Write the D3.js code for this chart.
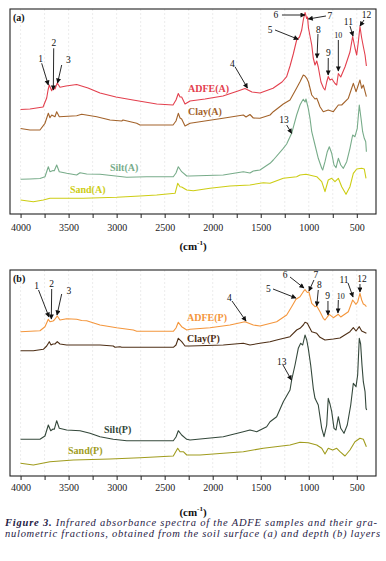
<!DOCTYPE html>
<html>
<head>
<meta charset="utf-8">
<script src="https://cdn.jsdelivr.net/npm/d3@7"></script>
<style>
  body { margin: 0; background: #fff; }
  text { font-family: "Liberation Serif", "Times New Roman", serif; }
</style>
</head>
<body>
<script>
// spectra: [wavenumber (cm-1), absorbance (a.u., offset)]
const adfeA = [[4000,104.5],[3902,105],[3766,107],[3728,116],[3714,124],[3701,129],[3676,123.3],[3662,127],[3642,125],[3618,131],[3590,126.7],[3527,128],[3416,129.5],[3298,126],[3173,121],[3007,117],[2830,114],[2583,110],[2413,109],[2382,114],[2358,120.5],[2340,117],[2323,117],[2288,110],[2236,113],[2080,115],[1893,118],[1737,123],[1664,125.5],[1591,122],[1508,121],[1372,125.7],[1278,132],[1230,137.3],[1195,148],[1161,160],[1126,174],[1096,177],[1073,184],[1057,194],[1039,201.5],[1021,195.5],[1013,197],[1003,186],[969,169],[953,156],[935,149],[917,153],[901,147],[873,132],[847,126],[831,124],[813,132],[797,137.5],[779,134],[758,135],[727,130.5],[709,129],[692,140.5],[667,137],[623,147],[571,162],[543,177.5],[519,166],[501,159],[484,172],[467,187.5],[449,176],[432,167.5],[414,159],[400,148]];
const clayA = [[4000,85.5],[3902,84],[3798,84],[3746,90.7],[3711,100.7],[3694,96.3],[3676,99],[3642,97.3],[3624,102.3],[3597,97.3],[3416,98.3],[3364,99.7],[3207,97.3],[3069,94],[2947,93],[2934,94],[2791,90.7],[2757,89],[2413,89],[2382,93],[2358,100.7],[2340,96],[2323,95],[2288,88],[2236,90.7],[1893,95.7],[1681,99],[1653,97],[1612,99.5],[1577,96],[1508,95.7],[1403,99],[1369,102.3],[1265,110],[1195,114],[1126,126],[1091,132.3],[1057,139],[1039,138],[1021,135.7],[1003,132],[969,119],[935,115],[917,115.7],[901,112],[883,107.3],[849,102.3],[797,104],[744,102.3],[692,109],[657,109],[588,115.7],[553,125.7],[536,130.7],[508,122.3],[491,127],[467,134],[449,125.7],[432,129],[400,117.3]];
const siltA = [[4000,34.7],[3902,35],[3798,35.5],[3746,37.3],[3711,47.3],[3694,42.3],[3662,43.5],[3649,43.3],[3624,49],[3597,42.3],[3520,40.7],[3416,39],[3381,41.3],[3312,40],[3173,39.7],[2895,36.7],[2687,37.3],[2410,37.3],[2382,41],[2358,47.3],[2323,42.3],[2270,38],[2236,38],[1890,39],[1681,42.3],[1612,41],[1577,43],[1508,44],[1403,50.7],[1369,54],[1265,65.7],[1230,70],[1195,77.3],[1178,80.7],[1126,99],[1091,109],[1073,112.3],[1057,114.7],[1039,112],[1029,115],[1005,105.7],[987,95.7],[969,82.3],[935,69],[901,55.7],[865,45.7],[855,44],[831,52.3],[807,62.3],[786,67.3],[761,60.7],[737,49],[716,46.3],[692,55.7],[667,49],[640,45.7],[605,52.3],[571,65.7],[543,79],[519,77.3],[495,85.7],[474,109],[456,95.7],[439,82.3],[422,75.7],[407,72.3],[400,62.3]];
const sandA = [[4000,14],[3867,12.3],[3763,14],[3694,15.7],[3347,15.7],[3000,16.7],[2757,18],[2583,19],[2392,20.7],[2364,30.7],[2340,27.3],[2323,27],[2270,24],[2202,23.3],[2028,25.7],[1820,28],[1612,29],[1473,31.3],[1403,30.7],[1265,35.7],[1126,37.3],[1091,39],[1029,39.7],[917,37.3],[865,32.3],[831,22.3],[797,34],[761,35.7],[727,32.3],[692,35.7],[657,27.3],[612,19.7],[571,27.3],[536,40.7],[501,45],[449,45.7],[422,45],[404,35.7]];

const adfeP = [[4000,144.3],[3798,145.3],[3746,149.3],[3711,156.7],[3694,154.3],[3662,155],[3649,156],[3618,160],[3590,156],[3520,157.3],[3416,156.7],[3364,155.5],[3312,155.3],[3173,151],[3000,148.3],[2826,146],[2791,144.7],[2410,144.7],[2382,148],[2358,153.7],[2323,149.3],[2270,146],[2236,146.7],[2028,148.3],[1820,151],[1664,154.3],[1577,151],[1508,150],[1334,154.3],[1230,161],[1178,169.3],[1133,176.7],[1091,179.3],[1057,184.3],[1039,186.3],[1015,183.5],[998,184],[969,172.7],[935,169.3],[917,170],[883,164.3],[849,157.7],[831,156],[786,161.7],[744,158.3],[692,161.7],[667,159],[588,164.3],[543,176],[508,171.7],[491,174],[467,182.7],[449,176],[432,172],[414,171],[400,169.3]];
const clayP = [[4000,125.3],[3867,125.3],[3763,126.7],[3728,130],[3701,134.3],[3683,131],[3662,132],[3642,132],[3618,134.3],[3590,132],[3520,131],[3173,131],[3035,130],[3017,128.7],[2965,129.3],[2947,128.7],[2410,128.7],[2382,131],[2358,137.7],[2323,134.3],[2288,130],[2236,130],[1890,131],[1681,132.7],[1612,131],[1508,132.7],[1403,134.3],[1334,136],[1195,139.3],[1126,146],[1091,147.7],[1057,151],[1039,153.7],[1015,152.7],[969,144.3],[917,142.7],[883,138.7],[831,136],[744,137],[675,138],[571,144.3],[536,148.3],[508,145],[474,149.3],[449,145],[400,142.7]];
const siltP = [[4000,36.7],[3798,36.7],[3746,40],[3711,51],[3686,45.3],[3662,47],[3649,46.7],[3624,55.3],[3597,47.7],[3520,46],[3381,45.3],[3277,42.7],[3173,39.3],[3035,36.7],[2895,35.3],[2410,35.3],[2382,39],[2358,45.3],[2323,41],[2270,36.7],[2236,36],[1890,39.3],[1681,44.3],[1612,46],[1542,44.3],[1438,49.3],[1403,54.3],[1334,59.3],[1265,74.3],[1195,86],[1178,96],[1143,111],[1109,127.7],[1084,132.7],[1063,131],[1039,141],[1021,136],[1005,127.7],[980,111],[953,87.7],[935,77.7],[901,71],[865,47.7],[841,39.3],[813,51],[797,77.7],[779,72],[761,64.3],[737,47.7],[716,46],[692,59.3],[667,47.7],[633,42.7],[599,51],[563,71],[536,92.7],[508,89.3],[491,101],[474,137.7],[460,132],[446,111],[432,94.3],[414,84.3],[404,67.7],[397,66]];
const sandP = [[4000,12.7],[3867,11],[3694,14.3],[3451,16],[3069,17],[2757,18.3],[2410,20],[2364,27.7],[2340,24.3],[2306,24.3],[2270,21],[2132,21],[1890,22.7],[1681,24.3],[1473,27.7],[1195,31],[1091,33.7],[1005,33.3],[917,31],[865,27.7],[831,22],[797,27.7],[751,26],[709,27.7],[675,24.3],[623,20],[571,26],[519,34.3],[467,37.7],[432,36.7],[400,29.3]];

const tickValues = d3.range(4000, 499, -250);
const tickLabels = [4000, 3500, 3000, 2500, 2000, 1500, 1000, 500];

// band labels: [text, label wavenumber, label absorbance, tip wavenumber, tip absorbance, from wavenumber, from absorbance]
const notesA = [
  ['1', 3790, 155.7, 3711, 129, 3780, 150.7],
  ['2', 3652, 171.3, 3659, 124, 3655, 165.7],
  ['3', 3503, 154.7, 3615, 131, 3572, 149],
  ['4', 1796, 150.7, 1638, 126, 1768, 147.3],
  ['5', 1403, 184, 1109, 174.7, 1351, 184],
  ['6', 1341, 199, 1039, 199, 1279, 199],
  ['7', 779, 198, 1005, 195, 821, 198],
  ['8', 901, 184.7, 914, 156, 904, 180],
  ['9', 797, 161.3, 798, 139, 797, 156],
  ['10', 692, 179, 692, 143, 692, 174],
  ['11', 588, 192.3, 539, 178, 571, 188],
  ['12', 400, 199, 467, 188, 425, 194],
  ['13', 1258, 94, 1178, 80.7, 1230, 89]
];
const notesP = [
  ['1', 3832, 190, 3704, 159, 3813, 186],
  ['2', 3676, 192, 3680, 157, 3676, 187],
  ['3', 3496, 185.3, 3621, 161, 3572, 182],
  ['4', 1827, 178.7, 1653, 155, 1799, 175],
  ['5', 1421, 187.7, 1133, 178, 1372, 187],
  ['6', 1247, 201, 1050, 188, 1195, 199],
  ['7', 925, 201, 998, 185, 946, 196],
  ['8', 890, 191, 917, 170, 901, 186],
  ['9', 803, 180, 800, 161, 800, 175],
  ['10', 668, 180, 696, 163, 692, 176],
  ['11', 633, 196.7, 539, 179, 591, 193],
  ['12', 446, 197.7, 467, 184, 467, 192],
  ['13', 1282, 114.3, 1180, 96, 1268, 111]
];

const width = 386, height = 561;
const left = 10, right = 376;

const svg = d3.select('body').append('svg')
  .attr('width', width)
  .attr('height', height);

svg.append('defs').append('marker')
  .attr('id', 'head')
  .attr('viewBox', '0 0 10 10')
  .attr('refX', 9).attr('refY', 5)
  .attr('markerWidth', 6).attr('markerHeight', 5)
  .attr('markerUnits', 'userSpaceOnUse')
  .attr('orient', 'auto')
  .append('path').attr('d', 'M0,0L10,5L0,10z').attr('fill', '#111');

const x = d3.scaleLinear().domain([4110, 300]).range([left, right]);

const panels = [
  { tag: '(a)', top: 9, bottom: 214, pad: 6, titleY: 250, notes: notesA,
    series: [
      { name: 'ADFE(A)', data: adfeA, color: '#e3404e', lx: 2257, ly: 125.5 },
      { name: 'Clay(A)', data: clayA, color: '#a3632b', lx: 2257, ly: 103 },
      { name: 'Silt(A)', data: siltA, color: '#78ac8a', lx: 3069, ly: 46.5 },
      { name: 'Sand(A)', data: sandA, color: '#cdcd14', lx: 3486, ly: 24.5 }
    ] },
  { tag: '(b)', top: 270, bottom: 476, pad: 4, titleY: 516, notes: notesP,
    series: [
      { name: 'ADFE(P)', data: adfeP, color: '#f4963c', lx: 2267, ly: 158.5 },
      { name: 'Clay(P)', data: clayP, color: '#4e2f16', lx: 2267, ly: 137.5 },
      { name: 'Silt(P)', data: siltP, color: '#34483b', lx: 3131, ly: 46.5 },
      { name: 'Sand(P)', data: sandP, color: '#a09c1e', lx: 3506, ly: 25.5 }
    ] }
];

panels.forEach(p => {
  const y = d3.scaleLinear().domain([0, p.bottom - p.top]).range([p.bottom, p.top]);
  const g = svg.append('g');

  // faint vertical grid
  g.append('g').selectAll('line')
    .data(tickValues)
    .enter().append('line')
    .attr('x1', d => x(d)).attr('x2', d => x(d))
    .attr('y1', p.top).attr('y2', p.bottom)
    .attr('stroke', '#e4e4e4')
    .attr('stroke-dasharray', '2,2')
    .attr('stroke-width', 0.7);

  const line = d3.line()
    .x(d => x(d[0]))
    .y(d => y(d[1]));

  g.append('g').selectAll('path')
    .data(p.series)
    .enter().append('path')
    .attr('d', d => line(d.data))
    .attr('fill', 'none')
    .attr('stroke', d => d.color)
    .attr('stroke-width', 1.1)
    .attr('stroke-linejoin', 'round');

  g.append('g').selectAll('text')
    .data(p.series)
    .enter().append('text')
    .attr('x', d => x(d.lx))
    .attr('y', d => y(d.ly))
    .attr('dy', '0.35em')
    .attr('font-size', 10)
    .attr('font-weight', 'bold')
    .attr('fill', d => d.color)
    .text(d => d.name);

  // band arrows and numbers
  const notes = g.append('g').selectAll('g')
    .data(p.notes)
    .enter().append('g');
  notes.append('line')
    .attr('x1', d => x(d[5])).attr('y1', d => y(d[6]))
    .attr('x2', d => x(d[3])).attr('y2', d => y(d[4]))
    .attr('stroke', '#111')
    .attr('stroke-width', 0.9)
    .attr('marker-end', 'url(#head)');
  notes.append('text')
    .attr('x', d => x(d[1]))
    .attr('y', d => y(d[2]))
    .attr('dy', '0.35em')
    .attr('text-anchor', 'middle')
    .attr('font-size', d => d[0] === '10' ? 8 : 9.5)
    .attr('fill', '#111')
    .text(d => d[0]);

  // frame
  g.append('rect')
    .attr('x', left).attr('y', p.top)
    .attr('width', right - left).attr('height', p.bottom - p.top)
    .attr('fill', 'none')
    .attr('stroke', '#222')
    .attr('stroke-width', 1.1);

  const axis = g.append('g')
    .attr('transform', `translate(0,${p.bottom})`)
    .call(d3.axisBottom(x)
      .tickValues(tickValues)
      .tickSize(4)
      .tickPadding(p.pad)
      .tickFormat(d => tickLabels.includes(d) ? d : ''));
  axis.select('.domain').remove();
  axis.selectAll('line').attr('stroke', '#222');
  axis.selectAll('text')
    .attr('font-family', '"Liberation Serif", serif')
    .attr('font-size', 10)
    .attr('fill', '#222');

  const title = g.append('text')
    .attr('x', (left + right) / 2)
    .attr('y', p.titleY)
    .attr('text-anchor', 'middle')
    .attr('font-size', 11)
    .attr('font-weight', 'bold')
    .attr('fill', '#111');
  title.append('tspan').text('(cm');
  title.append('tspan').attr('dy', -5).attr('font-size', 7).text('-1');
  title.append('tspan').attr('dy', 5).text(')');

  g.append('text')
    .attr('x', 13)
    .attr('y', p.top + 8)
    .attr('dy', '0.35em')
    .attr('font-size', 10)
    .attr('font-weight', 'bold')
    .attr('fill', '#111')
    .text(p.tag);
});

// caption
const cap1 = svg.append('text')
  .attr('x', 5).attr('y', 526)
  .attr('font-size', 10.5)
  .attr('font-style', 'italic')
  .attr('fill', '#1f2145')
  .attr('textLength', 372)
  .attr('lengthAdjust', 'spacing');
cap1.append('tspan').attr('font-weight', 'bold').text('Figure 3.');
cap1.append('tspan').text(' Infrared absorbance spectra of the ADFE samples and their gra-');

svg.append('text')
  .attr('x', 5).attr('y', 537)
  .attr('font-size', 10.5)
  .attr('font-style', 'italic')
  .attr('fill', '#1f2145')
  .attr('textLength', 375)
  .attr('lengthAdjust', 'spacing')
  .text('nulometric fractions, obtained from the soil surface (a) and depth (b) layers');
</script>
</body>
</html>
